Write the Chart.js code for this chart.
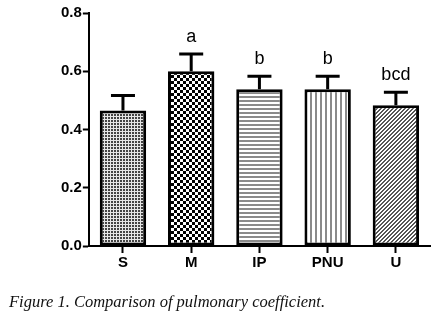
<!DOCTYPE html>
<html>
<head>
<meta charset="utf-8">
<script src="https://cdn.jsdelivr.net/npm/chart.js@4.4.1/dist/chart.umd.min.js"></script>
<style>
  html, body { margin: 0; padding: 0; background: #fff; }
  #wrap { position: relative; width: 440px; height: 323px; }
  #caption { position: absolute; left: 9px; top: 292px; font-family: "Liberation Serif", "DejaVu Serif", serif; font-style: italic; font-size: 16.5px; color: #111; white-space: nowrap; }
</style>
</head>
<body>
<div id="wrap">
  <canvas id="c" width="440" height="323"></canvas>
  <div id="caption">Figure 1. Comparison of pulmonary coefficient.</div>
</div>
<script>
const categories = ['S', 'M', 'IP', 'PNU', 'U'];
const means = [0.465, 0.600, 0.538, 0.538, 0.483];
const errors = [0.052, 0.059, 0.045, 0.045, 0.045];
const letters = ['', 'a', 'b', 'b', 'bcd'];
const yTicks = [0, 0.2, 0.4, 0.6, 0.8];

function makePattern(w, h, draw) {
  const c = document.createElement('canvas');
  c.width = w; c.height = h;
  const g = c.getContext('2d');
  draw(g, w, h);
  return g.createPattern(c, 'repeat');
}
const ctx = document.getElementById('c').getContext('2d');
const patterns = [
  makePattern(3, 3, (g) => { g.fillStyle = '#e6e6e6'; g.fillRect(0,0,3,3); g.fillStyle = '#444'; g.fillRect(0,0,2,2); }),
  makePattern(6, 6, (g) => { g.fillStyle = '#fff'; g.fillRect(0,0,6,6); g.fillStyle = '#000'; g.fillRect(0,0,3,3); g.fillRect(3,3,3,3); }),
  makePattern(4, 4, (g) => { g.fillStyle = '#fff'; g.fillRect(0,0,4,4); g.fillStyle = '#8a8a8a'; g.fillRect(0,0,4,2); }),
  makePattern(5, 5, (g) => { g.fillStyle = '#fff'; g.fillRect(0,0,5,5); g.fillStyle = '#8a8a8a'; g.fillRect(0,0,2,5); }),
  makePattern(4, 4, (g) => { g.fillStyle = '#fff'; g.fillRect(0,0,4,4); g.fillStyle = '#555';
    for (let x = 0; x < 4; x++) for (let y = 0; y < 4; y++) if ((x + y) % 4 < 2) g.fillRect(x, y, 1, 1); })
];

const errorPlugin = {
  id: 'errs',
  afterDatasetsDraw(chart) {
    const meta = chart.getDatasetMeta(0);
    const ys = chart.scales.y;
    const c = chart.ctx;
    c.save();
    c.strokeStyle = '#000';
    c.lineWidth = 3;
    meta.data.forEach((bar, i) => {
      const x = bar.x;
      const y0 = ys.getPixelForValue(means[i]);
      const y1 = ys.getPixelForValue(means[i] + errors[i]);
      c.beginPath();
      c.moveTo(x, y0); c.lineTo(x, y1);
      c.moveTo(x - 12, y1); c.lineTo(x + 12, y1);
      c.stroke();
      if (letters[i]) {
        c.fillStyle = '#000';
        c.font = '18px "Liberation Sans", Arial, sans-serif';
        c.textAlign = 'center';
        c.textBaseline = 'bottom';
        c.fillText(letters[i], x, y1 - 8);
      }
    });
    c.restore();
  }
};

new Chart(ctx, {
  type: 'bar',
  data: {
    labels: categories,
    datasets: [{
      data: means,
      backgroundColor: patterns,
      borderColor: '#000',
      borderWidth: 3,
      borderSkipped: false,
      categoryPercentage: 1,
      barPercentage: 0.68
    }]
  },
  options: {
    responsive: false,
    animation: false,
    events: [],
    layout: { padding: { left: 60, right: 10, top: 13, bottom: 50 } },
    plugins: { legend: { display: false }, tooltip: { enabled: false } },
    scales: {
      x: {
        grid: { display: true, drawOnChartArea: false, offset: false, tickLength: 7, tickColor: '#000', tickWidth: 2 },
        border: { display: true, color: '#000', width: 2 },
        ticks: { color: '#000', font: { family: '"Liberation Sans", Arial, sans-serif', size: 15, weight: 'bold' }, padding: 1 },
      },
      y: {
        min: 0, max: 0.8,
        afterBuildTicks(axis) { axis.ticks = yTicks.map(v => ({ value: v })); },
        grid: { display: true, drawOnChartArea: false, tickLength: 6, tickColor: '#000', tickWidth: 2 },
        border: { display: true, color: '#000', width: 2 },
        ticks: { color: '#000', font: { family: '"Liberation Sans", Arial, sans-serif', size: 15, weight: 'bold' }, padding: 1,
          callback: (v) => Number(v).toFixed(1) }
      }
    }
  },
  plugins: [errorPlugin]
});
</script>
</body>
</html>
